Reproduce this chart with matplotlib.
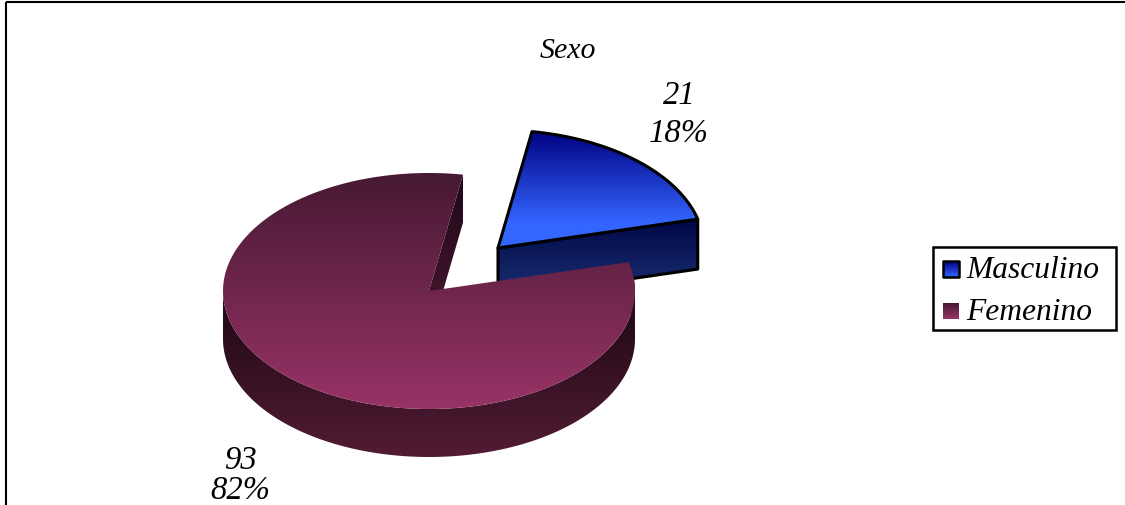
import numpy as np
import matplotlib
matplotlib.use('Agg')
import matplotlib.pyplot as plt
from matplotlib.patches import Polygon, Rectangle

title = 'Sexo'
categories = ['Masculino', 'Femenino']
values = [21, 93]
percents = ['18%', '82%']

# geometria do pie em pixels
cx, cy = 429, 292
rx, ry = 206, 118
depth = 48
start = 9.5
offset = (69, -43)

plt.rcParams['font.family'] = ['Liberation Serif', 'DejaVu Serif']
plt.rcParams['font.style'] = 'italic'

fig = plt.figure(figsize=(11.25, 5.06), dpi=100)
ax = fig.add_axes([0, 0, 1, 1])
ax.set_axis_off()


def arc(a0, a1, dx=0, dy=0):
    t = np.radians(np.linspace(a0, a1, 200))
    return np.column_stack([cx + dx + rx * np.sin(t), cy + dy - ry * np.cos(t)])


def grad(pts, c0, c1, y0, y1, z=2, edge=None, lw=0):
    # gradiente vertical recortado no poligono, cor fixa fora de y0..y1
    c0 = np.array(c0) / 255
    c1 = np.array(c1) / 255
    ys = np.linspace(0, 506, 507)
    f = np.clip((ys - y0) / (y1 - y0), 0, 1)[:, None, None]
    img = c0[None, None, :] * (1 - f) + c1[None, None, :] * f
    im = ax.imshow(img, extent=[0, 1125, 506, 0], origin='upper', aspect='auto', zorder=z,
                   interpolation='bilinear')
    p = Polygon(pts, closed=True, transform=ax.transData, facecolor='none', edgecolor='none')
    ax.add_patch(p)
    im.set_clip_path(p)
    if edge:
        ax.add_patch(Polygon(pts, closed=True, fill=False, edgecolor=edge, linewidth=lw,
                             joinstyle='round', zorder=z + 0.1))


total = sum(values)
a0 = start
a1 = a0 + 360 * values[0] / total
a2 = a0 + 360

# fatia Masculino (deslocada)
dx, dy = offset
rim = arc(a0, a1, dx, dy)
cpt = np.array([[cx + dx, cy + dy]])
front = rim[-1]
wall = np.array([[cx + dx, cy + dy], front, front + [0, depth + 2], [cx + dx, cy + dy + depth + 2]])
grad(wall, (0, 8, 70), (28, 50, 118), cy + dy - 28, cy + dy + depth + 2, z=2, edge='black', lw=2.2)
grad(np.vstack([cpt, rim]), (0, 0, 128), (51, 102, 255), 131, 224, z=2.5, edge='black', lw=2.2)

# fatia Femenino
rim = arc(a1, a2)
cpt = np.array([[cx, cy]])
back = arc(a0, a0)[0]
wall = np.array([[cx, cy], back, back + [0, depth], [cx, cy + depth]])
grad(wall, (30, 8, 22), (75, 25, 50), 175, 339, z=3)
side = arc(90, 270)
grad(np.vstack([side, (side + [0, depth])[::-1]]), (30, 8, 20), (82, 28, 52), 298, 458, z=3.2)
right = arc(a1, 90)
grad(np.vstack([right, (right + [0, depth])[::-1]]), (30, 8, 20), (60, 20, 40), 263, 400, z=3.2)
grad(np.vstack([cpt, rim]), (70, 25, 50), (152, 51, 102), 173, 409, z=3.5)

# borda do grafico
ax.add_patch(Rectangle((5.5, 2.5), 1125, 520, fill=False, edgecolor='black', linewidth=1.5, zorder=1))

# textos
ax.text(568, 51, title, fontsize=21.5, ha='center', va='center', zorder=6)
ax.text(679, 96, str(values[0]), fontsize=23.5, ha='center', va='center', zorder=6)
ax.text(679, 134, percents[0], fontsize=23.5, ha='center', va='center', zorder=6)
ax.text(240, 461, str(values[1]), fontsize=23.5, ha='center', va='center', zorder=6)
ax.text(240, 491, percents[1], fontsize=23.5, ha='center', va='center', zorder=6)

# legenda
ax.add_patch(Rectangle((933, 248), 183, 83, facecolor='white', edgecolor='black', linewidth=1.8, zorder=5))
ys = [270, 312]
swatch = [((0, 0, 128), (51, 102, 255)), ((70, 25, 50), (152, 51, 102))]
for i, name in enumerate(categories):
    y = ys[i]
    box = [(943, y - 8), (959, y - 8), (959, y + 8), (943, y + 8)]
    grad(box, swatch[i][0], swatch[i][1], y - 8, y + 8, z=5.5,
         edge='black' if i == 0 else None, lw=1.8)
    ax.text(966, y + 1, name, fontsize=22.7, ha='left', va='center', zorder=6)

ax.set_xlim(0, 1125)
ax.set_ylim(506, 0)
fig.savefig('out.png', dpi=100, facecolor='white')
